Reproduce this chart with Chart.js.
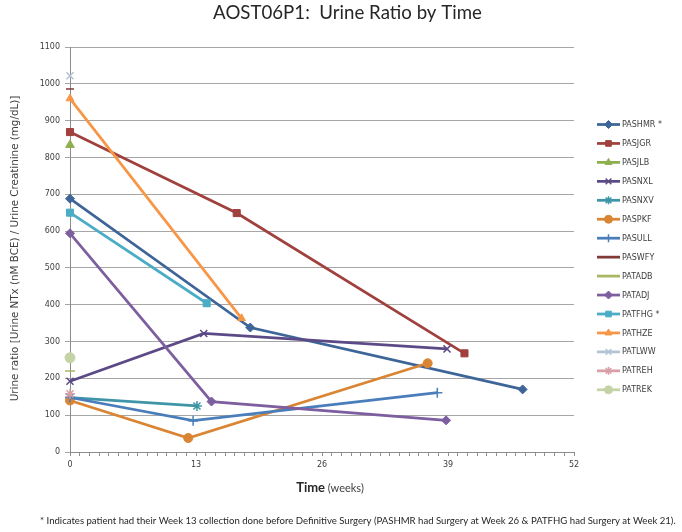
<!DOCTYPE html>
<html>
<head>
<meta charset="utf-8">
<script src="https://cdn.jsdelivr.net/npm/chart.js@4.4.0/dist/chart.umd.min.js"></script>
<style>
html,body{margin:0;padding:0;background:#ffffff;}
#wrap{width:682px;height:532px;position:relative;}
</style>
</head>
<body>
<div id="wrap"><canvas id="c" width="682" height="532"></canvas></div>
<script>
// ---------- DATA ----------
const chartTitle = 'AOST06P1:  Urine Ratio by Time';
const yAxisTitle = 'Urine ratio [Urine NTx (nM BCE) / Urine Creatinine (mg/dL)]';
const xAxisTitleMain = 'Time';
const xAxisTitleUnit = '(weeks)';
const footnote = '* Indicates patient had their Week 13 collection done before Definitive Surgery (PASHMR had Surgery at Week 26 & PATFHG had Surgery at Week 21).';

const seriesNames = ['PASHMR *','PASJGR','PASJLB','PASNXL','PASNXV','PASPKF','PASULL','PASWFY','PATADB','PATADJ','PATFHG *','PATHZE','PATLWW','PATREH','PATREK'];

const weeks_PASHMR = [0, 18.6, 46.7];   const ratio_PASHMR = [688, 338, 170];
const weeks_PASJGR = [0, 17.2, 40.7];   const ratio_PASJGR = [869, 649, 268];
const weeks_PASJLB = [0];               const ratio_PASJLB = [834];
const weeks_PASNXL = [0, 13.8, 38.9];   const ratio_PASNXL = [192, 322, 280];
const weeks_PASNXV = [0, 13.1];         const ratio_PASNXV = [148, 125];
const weeks_PASPKF = [0, 12.2, 36.9];   const ratio_PASPKF = [140, 38, 241];
const weeks_PASULL = [0, 12.7, 37.9];   const ratio_PASULL = [148, 85, 161];
const weeks_PASWFY = [0];               const ratio_PASWFY = [986];
const weeks_PATADB = [0];               const ratio_PATADB = [220];
const weeks_PATADJ = [0, 14.6, 38.8];   const ratio_PATADJ = [594, 137, 86];
const weeks_PATFHG = [0, 14.1];         const ratio_PATFHG = [650, 404];
const weeks_PATHZE = [0, 17.7];         const ratio_PATHZE = [960, 363];
const weeks_PATLWW = [0];               const ratio_PATLWW = [1022];
const weeks_PATREH = [0];               const ratio_PATREH = [158];
const weeks_PATREK = [0];               const ratio_PATREK = [256];

const xTickLabels = [0, 13, 26, 39, 52];
const yTickLabels = [0, 100, 200, 300, 400, 500, 600, 700, 800, 900, 1000, 1100];

// ---------- STYLES ----------
const seriesWeeks = [weeks_PASHMR, weeks_PASJGR, weeks_PASJLB, weeks_PASNXL, weeks_PASNXV, weeks_PASPKF, weeks_PASULL, weeks_PASWFY, weeks_PATADB, weeks_PATADJ, weeks_PATFHG, weeks_PATHZE, weeks_PATLWW, weeks_PATREH, weeks_PATREK];
const seriesRatios = [ratio_PASHMR, ratio_PASJGR, ratio_PASJLB, ratio_PASNXL, ratio_PASNXV, ratio_PASPKF, ratio_PASULL, ratio_PASWFY, ratio_PATADB, ratio_PATADJ, ratio_PATFHG, ratio_PATHZE, ratio_PATLWW, ratio_PATREH, ratio_PATREK];
const colors = ['#3E6597','#A0413D','#8FAF4F','#5C4A87','#3F95A8','#D98534','#4A7EBB','#7F3A38','#AAB662','#7D5E9E','#4BACC6','#F79646','#B4C2D8','#D8A0A6','#C4D3A5'];
const markers = ['rectRot','rect','triangle','crossRot','star','circle','cross','line','line','rectRot','rect','triangle','crossRot','star','circle'];
const markerRadius = [4.5,5,5,5,5,4.5,5,4,5,4.5,5,4.5,5,5,5];
const strokeMarkers = ['crossRot','star','cross','line'];

const N = seriesNames.length;
const datasets = seriesNames.map((name, i) => ({
  label: name,
  data: seriesWeeks[i].map((w, k) => ({ x: w, y: seriesRatios[i][k] })),
  borderColor: colors[i],
  backgroundColor: colors[i],
  borderWidth: 2.75,
  pointStyle: markers[i],
  pointRadius: markerRadius[i],
  pointBorderWidth: strokeMarkers.includes(markers[i]) ? 1.5 : 1,
  pointBorderColor: colors[i],
  pointBackgroundColor: colors[i],
  tension: 0,
  clip: false,
  order: N - i
}));

function fitFont(ctx, text, weight, family, target) {
  ctx.font = weight + ' 20px ' + family;
  const w = ctx.measureText(text).width;
  return 20 * target / w;
}

const extras = {
  id: 'extras',
  afterDraw(chart) {
    const ctx = chart.ctx;
    ctx.save();
    // title
    ctx.fillStyle = '#262626';
    ctx.textAlign = 'center';
    ctx.textBaseline = 'middle';
    let fs = fitFont(ctx, chartTitle, 'normal', 'Lato', 269);
    ctx.font = fs + 'px Lato';
    ctx.fillText(chartTitle, 347.5, 13);

    // y axis title
    ctx.save();
    ctx.translate(15, 248.5);
    ctx.rotate(-Math.PI / 2);
    ctx.fillStyle = '#404040';
    fs = fitFont(ctx, yAxisTitle, 'normal', 'DejaVu Sans', 306);
    ctx.font = fs + 'px DejaVu Sans';
    ctx.fillText(yAxisTitle, 0, 0);
    ctx.restore();

    // x axis title
    ctx.textAlign = 'left';
    ctx.textBaseline = 'alphabetic';
    ctx.fillStyle = '#262626';
    ctx.font = 'bold 13px Lato';
    const wMain = ctx.measureText(xAxisTitleMain).width;
    ctx.font = '11px Lato';
    const wUnit = ctx.measureText(' ' + xAxisTitleUnit).width;
    let x0 = 330 - (wMain + wUnit) / 2;
    ctx.font = 'bold 13px Lato';
    ctx.fillText(xAxisTitleMain, x0, 492);
    ctx.font = '11px Lato';
    ctx.fillStyle = '#404040';
    ctx.fillText(' ' + xAxisTitleUnit, x0 + wMain, 492);

    // footnote
    ctx.fillStyle = '#262626';
    fs = fitFont(ctx, footnote, 'normal', 'Lato', 636);
    ctx.font = fs + 'px Lato';
    ctx.textBaseline = 'middle';
    ctx.fillText(footnote, 40, 521);

    // legend
    const lx0 = 597, lx1 = 620, mx = 608.5, tx = 622;
    ctx.font = '8px DejaVu Sans';
    ctx.textBaseline = 'middle';
    chart.data.datasets.forEach((ds, i) => {
      const y = 124.5 + i * 18.95;
      ctx.strokeStyle = ds.borderColor;
      ctx.lineWidth = 2.75;
      ctx.beginPath();
      ctx.moveTo(lx0, y);
      ctx.lineTo(lx1, y);
      ctx.stroke();
      ctx.fillStyle = ds.pointBackgroundColor;
      ctx.strokeStyle = ds.pointBorderColor;
      ctx.lineWidth = ds.pointBorderWidth;
      Chart.helpers.drawPoint(ctx, { pointStyle: ds.pointStyle, radius: Math.min(ds.pointRadius, 4), borderWidth: ds.pointBorderWidth, rotation: 0 }, mx, y);
      ctx.fillStyle = '#404040';
      ctx.fillText(ds.label, tx, y + 0.5);
    });
    ctx.restore();
  }
};

new Chart(document.getElementById('c'), {
  type: 'line',
  data: { datasets },
  plugins: [extras],
  options: {
    responsive: false,
    animation: false,
    events: [],
    layout: { padding: { top: 47, right: 108, left: 0, bottom: 0 } },
    plugins: { legend: { display: false }, title: { display: false }, tooltip: { enabled: false } },
    scales: {
      x: {
        type: 'linear', min: 0, max: 52,
        ticks: {
          stepSize: 1, autoSkip: false, maxRotation: 0, minRotation: 0, padding: 4,
          color: '#404040', font: { family: 'DejaVu Sans', size: 8 },
          callback: (v) => xTickLabels.includes(v) ? String(v) : ''
        },
        grid: { drawOnChartArea: false, drawTicks: true, tickLength: 4, color: '#8c8c8c' },
        border: { color: '#8c8c8c', width: 1 },
        afterFit: (s) => { s.height = 80; }
      },
      y: {
        min: 0, max: 1100,
        ticks: {
          stepSize: 100, padding: 5, color: '#404040', font: { family: 'DejaVu Sans', size: 8 },
          callback: (v) => yTickLabels.includes(v) ? String(v) : ''
        },
        grid: { color: '#a6a6a6', tickLength: 5, lineWidth: 1 },
        border: { color: '#8c8c8c', width: 1 },
        afterFit: (s) => { s.width = 70; }
      }
    }
  }
});
</script>
</body>
</html>
